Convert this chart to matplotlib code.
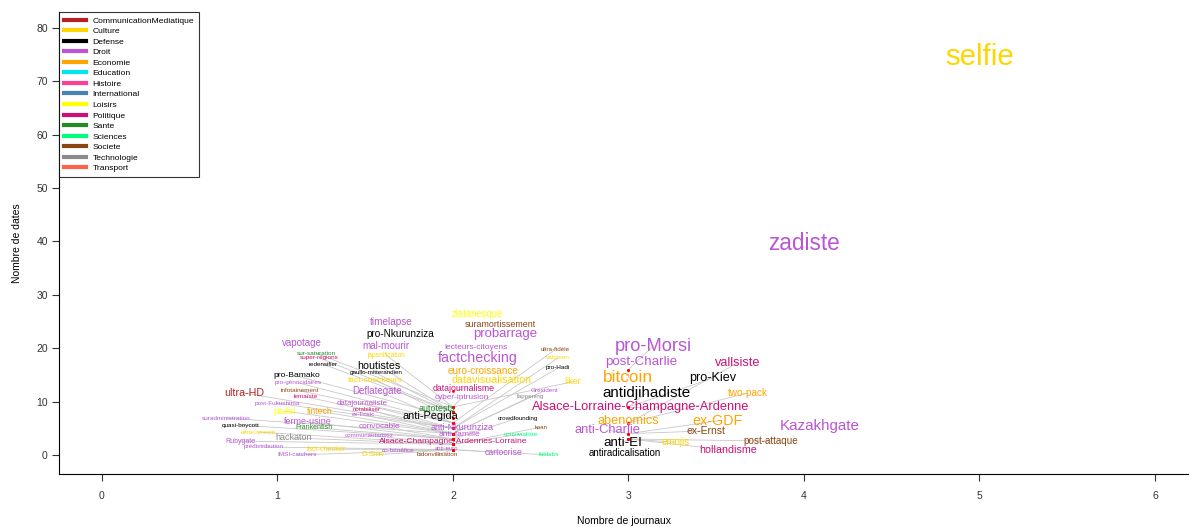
import matplotlib.pyplot as plt
from matplotlib.lines import Line2D

plt.rcParams['font.family'] = ['Liberation Sans', 'DejaVu Sans']

# categories of the legend and their colours
categories = ['CommunicationMediatique', 'Culture', 'Defense', 'Droit', 'Economie',
              'Education', 'Histoire', 'International', 'Loisirs', 'Politique',
              'Sante', 'Sciences', 'Societe', 'Technologie', 'Transport']
cat_colors = ['#B22222', '#FFD700', '#000000', '#BA55D3', '#FFA500',
              '#00E5EE', '#FF3E96', '#4682B4', '#FFFF00', '#CD1076',
              '#228B22', '#00FF7F', '#8B4513', '#8B8989', '#FF6347']

# words, theme, text position (after de-overlap), true point, relative size
mots = ['selfie', 'zadiste', 'pro-Morsi', 'post-Charlie', 'bitcoin', 'antidjihadiste',
        'Alsace-Lorraine-Champagne-Ardenne', 'pro-Kiev', 'vallsiste', 'two-pack',
        'abenomics', 'ex-GDF', 'anti-Charlie', 'ex-Ernst', 'anti-EI', 'emojis',
        'post-attaque', 'hollandisme', 'antiradicalisation', 'Kazakhgate', 'liker',
        'zlatanesque', 'suramortissement', 'probarrage', 'lecteurs-citoyens',
        'factchecking', 'euro-croissance', 'datavisualisation', 'datajournalisme',
        'cyber-intrusion', 'autotests', 'anti-Pegida', 'anti-Nkurunziza',
        'anti-famille', 'Alsace-Champagne-Ardennes-Lorraine', 'anti-euro',
        'bidonvillisation', 'cartocrise', 'fablabs', 'convivialiste', 'koan',
        'crowdfounding', 'fappening', 'Grexident', 'pro-Hadi', 'valymen',
        'ultra-fidèle', 'timelapse', 'pro-Nkurunziza', 'mal-mourir', 'japanification',
        'houtistes', 'gaullo-mitterandien', 'fact-checkeurs', 'Deflategate',
        'datajournaliste', 'notabiliser', 'ex-Fnsic', 'convocable', 'communautarisez',
        'co-bénéfice', 'D-Shirt', 'vapotage', 'sur-saturation', 'super-régions',
        'redensifier', 'pro-Bamako', 'pro-génocidaires', 'infotainement', 'lemaïste',
        'ultra-HD', 'post-Fukushima', 'padel', 'fintech', 'suradministration',
        'ferme-usine', 'quasi-boycott', 'Frankenfish', 'ultracorrecte', 'hackaton',
        'Rubygate', 'prédistribution', 'fact-checker', 'IMSI-catchers']
themes = ['Culture', 'Droit', 'Droit', 'Droit', 'Economie', 'Defense',
          'Politique', 'Defense', 'Politique', 'Economie',
          'Economie', 'Economie', 'Droit', 'Societe', 'Defense', 'Culture',
          'Societe', 'Politique', 'Defense', 'Droit', 'Culture',
          'Loisirs', 'Societe', 'Droit', 'Droit',
          'Droit', 'Economie', 'Culture', 'Politique',
          'Droit', 'Sante', 'Defense', 'Droit',
          'Droit', 'Politique', 'Droit',
          'Societe', 'Droit', 'Sciences', 'Sciences', 'Societe',
          'Defense', 'Technologie', 'Droit', 'Defense', 'Culture',
          'Societe', 'Droit', 'Defense', 'Droit', 'Culture',
          'Defense', 'Defense', 'Culture', 'Droit',
          'Droit', 'Politique', 'Droit', 'Droit', 'Droit',
          'Droit', 'Culture', 'Droit', 'Sante', 'Politique',
          'Defense', 'Defense', 'Droit', 'Societe', 'Politique',
          'CommunicationMediatique', 'Droit', 'Loisirs', 'Economie', 'Droit',
          'Droit', 'Defense', 'Sante', 'Culture', 'Technologie',
          'Droit', 'Droit', 'Culture', 'Droit']
x_txt = [5.00, 4.00, 3.14, 3.07, 3.00, 3.10,
         3.07, 3.48, 3.62, 3.68,
         3.00, 3.51, 2.88, 3.44, 2.97, 3.27,
         3.81, 3.57, 2.98, 4.09, 2.68,
         2.14, 2.27, 2.30, 2.13,
         2.14, 2.17, 2.22, 2.06,
         2.05, 1.91, 1.87, 2.05,
         2.04, 2.00, 1.96,
         1.91, 2.29, 2.55, 2.39, 2.50,
         2.37, 2.44, 2.52, 2.60, 2.60,
         2.58, 1.65, 1.70, 1.62, 1.62,
         1.58, 1.56, 1.56, 1.57,
         1.48, 1.51, 1.49, 1.58, 1.52,
         1.69, 1.54, 1.14, 1.22, 1.24,
         1.26, 1.11, 1.12, 1.13, 1.16,
         0.81, 1.00, 1.04, 1.24, 0.71,
         1.17, 0.79, 1.21, 0.89, 1.09,
         0.79, 0.92, 1.28, 1.11]
y_txt = [74.5, 39.7, 20.4, 17.4, 14.6, 11.6,
         9.0, 14.4, 17.2, 11.6,
         6.4, 6.4, 4.7, 4.5, 2.3, 2.4,
         2.6, 0.9, 0.3, 5.4, 13.7,
         26.4, 24.5, 22.7, 20.2,
         18.2, 15.7, 14.0, 12.4,
         10.7, 8.8, 7.3, 5.2,
         3.9, 2.6, 1.3,
         0.0, 0.4, 0.0, 3.9, 5.2,
         6.9, 10.9, 12.0, 16.3, 18.2,
         19.7, 24.9, 22.7, 20.4, 18.7,
         16.7, 15.4, 14.0, 12.0,
         9.7, 8.6, 7.5, 5.4, 3.7,
         0.9, 0.0, 21.0, 19.1, 18.2,
         17.0, 14.8, 13.5, 12.0, 10.9,
         11.6, 9.7, 8.2, 8.2, 6.9,
         6.2, 5.6, 5.1, 4.3, 3.2,
         2.6, 1.5, 1.1, 0.0]
x_vrai = [5, 4, 3, 3.07, 3, 3,
          3, 3, 3, 3,
          3, 3, 3, 3, 3, 3,
          3, 3, 2.98, 4.09, 2,
          2.14, 2.27, 2.30, 2.13,
          2.14, 2.17, 2.22, 2,
          2, 2, 2, 2,
          2, 2, 2,
          2, 2, 2, 2, 2,
          2, 2, 2, 2, 2,
          2, 1.65, 1.70, 1.62, 2,
          2, 2, 2, 2,
          2, 2, 2, 2, 2,
          2, 2, 1.14, 2, 2,
          2, 2, 2, 2, 2,
          2, 2, 2, 2, 2,
          2, 2, 2, 2, 2,
          2, 2, 2, 2]
y_vrai = [74.5, 39.7, 16, 17.4, 16, 9,
          9, 9, 6, 6,
          6, 4, 4, 4, 3, 3,
          3, 3, 0.3, 5.4, 9,
          26.4, 24.5, 22.7, 20.2,
          18.2, 15.7, 14.0, 12,
          9, 9, 6, 4,
          3, 2, 1,
          1, 1, 1, 2, 2,
          3, 4, 4, 5, 5,
          6, 24.9, 22.7, 20.4, 9,
          8, 8, 7, 6,
          5, 4, 4, 3, 2,
          1, 1, 21.0, 9, 8,
          8, 7, 6, 6, 5,
          5, 5, 4, 4, 4,
          3, 3, 3, 2, 2,
          2, 1, 1, 1]
cex = [2.65, 2.04, 1.64, 1.21, 1.55, 1.36,
       1.16, 1.14, 1.15, 0.90,
       1.15, 1.29, 1.16, 0.93, 1.20, 0.88,
       0.89, 0.96, 0.88, 1.36, 0.81,
       0.86, 0.80, 1.19, 0.75,
       1.28, 0.90, 0.96, 0.79,
       0.74, 0.80, 0.98, 0.81,
       0.76, 0.76, 0.53,
       0.58, 0.78, 0.58, 0.58, 0.54,
       0.56, 0.56, 0.58, 0.58, 0.58,
       0.56, 0.90, 0.90, 0.89, 0.59,
       0.96, 0.56, 0.75, 0.88,
       0.70, 0.55, 0.55, 0.73, 0.56,
       0.58, 0.63, 0.88, 0.58, 0.58,
       0.56, 0.76, 0.58, 0.58, 0.58,
       0.96, 0.58, 0.81, 0.78, 0.58,
       0.81, 0.58, 0.63, 0.58, 0.81,
       0.63, 0.58, 0.65, 0.58]

couleur = dict(zip(categories, cat_colors))

fig = plt.figure(figsize=(11.89, 5.27), dpi=100)
ax = fig.add_axes([0.0496, 0.1006, 0.9504, 0.8767])

# segments from the true point to the displaced word, then the point itself
for xt, yt, xv, yv in zip(x_txt, y_txt, x_vrai, y_vrai):
    if abs(xt - xv) > 1e-6 or abs(yt - yv) > 1e-6:
        ax.plot([xv, xt], [yv, yt], color='#C8C8C8', lw=0.6, zorder=1)
        ax.plot(xv, yv, 'o', color='red', ms=2, mec='none', zorder=2)

for m, th, xt, yt, c in zip(mots, themes, x_txt, y_txt, cex):
    ax.text(xt, yt, m, color=couleur[th], fontsize=8 * c,
            ha='center', va='center', zorder=3)

ax.set_xlim(-0.245, 6.194)
ax.set_ylim(-3.56, 83.0)
ax.set_xticks(range(0, 7))
ax.set_yticks(range(0, 81, 10))
ax.spines['top'].set_visible(False)
ax.spines['right'].set_visible(False)
ax.tick_params(direction='out', length=5, labelsize=7.5, colors='#333333')
ax.tick_params(axis='x', pad=7)
ax.tick_params(axis='y', pad=3)
ax.set_xlabel('Nombre de journaux', fontsize=7.5, labelpad=11)
ax.set_ylabel('Nombre de dates', fontsize=7.5, labelpad=10)

handles = [Line2D([0], [0], color=c, lw=3) for c in cat_colors]
leg = ax.legend(handles, categories, loc='upper left', bbox_to_anchor=(0.0, 1.0),
                fontsize=6.1, frameon=True, fancybox=False, borderaxespad=0,
                handlelength=2.6, labelspacing=0.31, handletextpad=0.8,
                borderpad=0.55)
leg.get_frame().set_edgecolor('black')
leg.get_frame().set_linewidth(0.8)

fig.savefig('out.png', dpi=100)
